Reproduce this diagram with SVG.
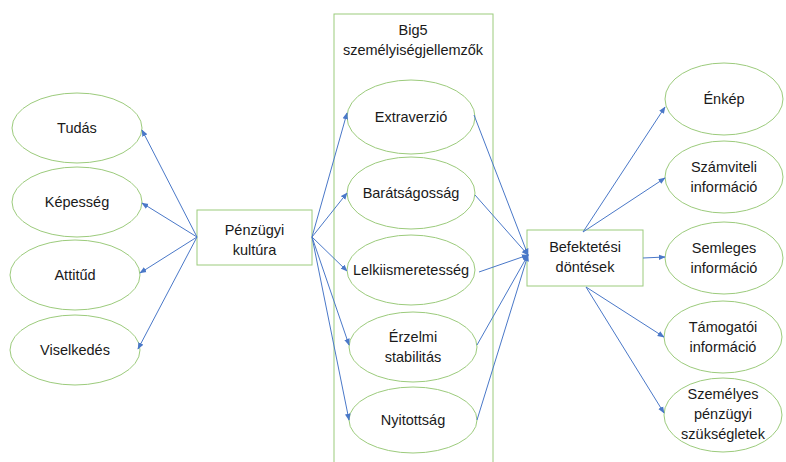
<svg xmlns="http://www.w3.org/2000/svg" width="786" height="462" viewBox="0 0 786 462">
<style>
.e{fill:#fff;stroke:#9ccb7c;stroke-width:1}
.r{fill:#fff;stroke:#9ccb7c;stroke-width:1}
.t{font-family:"Liberation Sans","DejaVu Sans",sans-serif;font-size:14.5px;fill:#1a1a1a;text-anchor:middle;dominant-baseline:central}
.c{stroke:#4a78c8;stroke-width:1;fill:none;marker-end:url(#a)}
</style>
<defs>
<marker id="a" viewBox="0 0 10 10" refX="9" refY="5" markerWidth="7" markerHeight="7" markerUnits="userSpaceOnUse" orient="auto">
<path d="M0,1 L10,5 L0,9 z" fill="#4a78c8"/>
</marker>
</defs>
<rect width="786" height="462" fill="#fff"/>
<g id="big5">
<rect class="r" x="334" y="14" width="159" height="460"/>
<text class="t" x="413" y="30">Big5</text>
<text class="t" x="413" y="50">személyiségjellemzők</text>
</g>
<g id="tudas"><ellipse class="e" cx="77" cy="128" rx="65" ry="35"/><text class="t" x="77" y="128">Tudás</text></g>
<g id="kepesseg"><ellipse class="e" cx="77" cy="202" rx="65" ry="35"/><text class="t" x="77" y="202">Képesség</text></g>
<g id="attitud"><ellipse class="e" cx="75" cy="275" rx="65" ry="35"/><text class="t" x="75" y="275">Attitűd</text></g>
<g id="viselkedes"><ellipse class="e" cx="75" cy="350" rx="65" ry="35"/><text class="t" x="75" y="350">Viselkedés</text></g>
<g id="penzugyi"><rect class="r" x="197" y="210" width="115" height="55"/><text class="t" x="254.5" y="230">Pénzügyi</text><text class="t" x="254.5" y="250">kultúra</text></g>
<g id="extraverzio"><ellipse class="e" cx="411" cy="117" rx="64" ry="37"/><text class="t" x="411" y="117">Extraverzió</text></g>
<g id="baratsagossag"><ellipse class="e" cx="411" cy="193" rx="64" ry="36"/><text class="t" x="411" y="193">Barátságosság</text></g>
<g id="lelkiismeretesseg"><ellipse class="e" cx="411" cy="270" rx="64" ry="35"/><text class="t" x="411" y="270">Lelkiismeretesség</text></g>
<g id="erzelmi"><ellipse class="e" cx="413" cy="347" rx="64" ry="35"/><text class="t" x="413" y="337">Érzelmi</text><text class="t" x="413" y="357">stabilitás</text></g>
<g id="nyitottsag"><ellipse class="e" cx="413" cy="420" rx="64" ry="33"/><text class="t" x="413" y="420">Nyitottság</text></g>
<g id="befektetesi"><rect class="r" x="527" y="230" width="116" height="56"/><text class="t" x="585" y="247">Befektetési</text><text class="t" x="585" y="267">döntések</text></g>
<g id="enkep"><ellipse class="e" cx="724" cy="99" rx="59" ry="36"/><text class="t" x="724" y="99">Énkép</text></g>
<g id="szamviteli"><ellipse class="e" cx="724" cy="177" rx="59" ry="36"/><text class="t" x="724" y="167">Számviteli</text><text class="t" x="724" y="187">információ</text></g>
<g id="semleges"><ellipse class="e" cx="724" cy="258" rx="59" ry="36"/><text class="t" x="724" y="248">Semleges</text><text class="t" x="724" y="268">információ</text></g>
<g id="tamogatoi"><ellipse class="e" cx="723" cy="337" rx="59" ry="36"/><text class="t" x="723" y="327">Támogatói</text><text class="t" x="723" y="347">információ</text></g>
<g id="szemelyes"><ellipse class="e" cx="723" cy="415" rx="59" ry="37"/><text class="t" x="723" y="394">Személyes</text><text class="t" x="723" y="414">pénzügyi</text><text class="t" x="723" y="434">szükségletek</text></g>
<g id="connectors">
<line class="c" x1="197" y1="237" x2="142" y2="130"/>
<line class="c" x1="197" y1="237" x2="142" y2="203"/>
<line class="c" x1="197" y1="237" x2="140" y2="273"/>
<line class="c" x1="197" y1="237" x2="138" y2="349"/>
<line class="c" x1="312" y1="237" x2="347" y2="113"/>
<line class="c" x1="312" y1="237" x2="347" y2="193"/>
<line class="c" x1="312" y1="237" x2="347" y2="271"/>
<line class="c" x1="312" y1="237" x2="349" y2="345"/>
<line class="c" x1="312" y1="237" x2="349" y2="420"/>
<line class="c" x1="474" y1="115" x2="528" y2="255"/>
<line class="c" x1="475" y1="195" x2="528" y2="255"/>
<line class="c" x1="479" y1="272" x2="528" y2="255"/>
<line class="c" x1="477" y1="345" x2="528" y2="255"/>
<line class="c" x1="477" y1="420" x2="528" y2="255"/>
<line class="c" x1="583" y1="232" x2="665" y2="107"/>
<line class="c" x1="583" y1="232" x2="665" y2="178"/>
<line class="c" x1="643" y1="258" x2="665" y2="257"/>
<line class="c" x1="586" y1="287" x2="664" y2="337"/>
<line class="c" x1="586" y1="287" x2="664" y2="413"/>
</g>
</svg>
